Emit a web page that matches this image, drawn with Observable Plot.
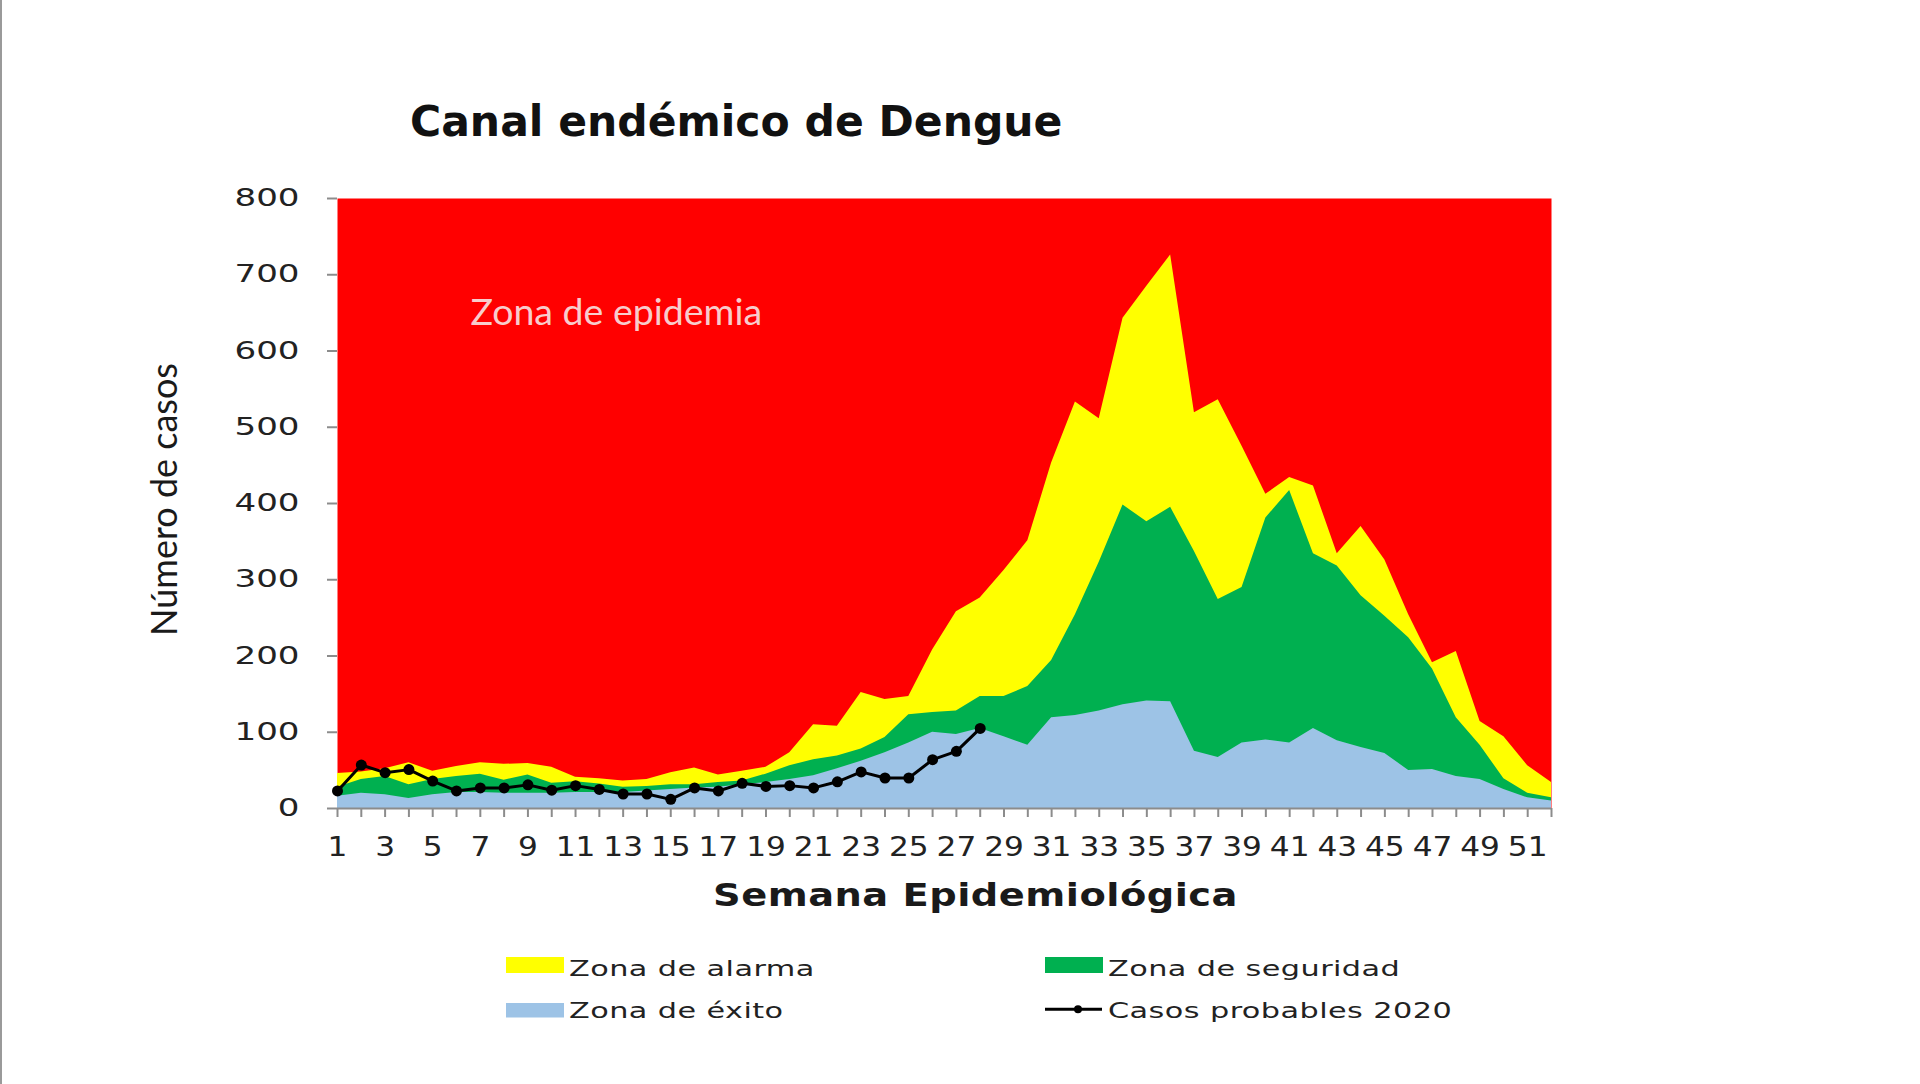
<!DOCTYPE html>
<html>
<head>
<meta charset="utf-8">
<script src="https://cdn.jsdelivr.net/npm/d3@7"></script>
<script src="https://cdn.jsdelivr.net/npm/@observablehq/plot@0.6"></script>
<style>
  html, body { margin: 0; padding: 0; background: #ffffff; }
  body { width: 1920px; height: 1084px; overflow: hidden; position: relative; }
  #edge { position: absolute; left: 0; top: 0; width: 2px; height: 1084px; background: #9a9a9a; }
  #title { position: relative; height: 160px; }
  #title span { position: absolute; left: 410px; top: 101px; font-family: "DejaVu Sans", sans-serif; font-weight: bold; font-size: 42.5px; line-height: 42px; color: #111; white-space: nowrap; }
  #chart { height: 760px; }
  #chart svg { display: block; }
  #legend { height: 164px; }
  #legend svg { display: block; }
</style>
</head>
<body>
<div id="edge"></div>
<div id="title"><span>Canal endémico de Dengue</span></div>
<div id="chart"></div>
<div id="legend"></div>
<script>
// ---- data ----
const weeks = d3.range(1, 53);
const alarma = [46, 48, 52, 60, 49, 55, 60, 58, 59, 54, 41, 39, 36, 38, 47, 53, 44, 49, 54, 73,
  110, 108, 152, 143, 147, 208, 258, 276, 312, 351, 453, 533, 511, 643, 685, 726, 519, 536, 475, 412,
  434, 423, 334, 370, 326, 254, 191, 206, 114, 94, 56, 34];
const seguridad = [28, 38, 42, 31, 38, 42, 45, 37, 44, 33, 35, 32, 28, 29, 31, 31, 34, 36, 45, 56,
  64, 69, 78, 93, 123, 126, 128, 147, 147, 160, 194, 254, 323, 398, 376, 395, 337, 274, 290, 381,
  417, 334, 318, 279, 252, 224, 183, 119, 83, 39, 20, 14];
const exito = [16, 20, 18, 13, 18, 21, 21, 20, 20, 20, 21, 21, 21, 23, 25, 27, 28, 31, 34, 38,
  43, 52, 62, 73, 86, 100, 97, 105, 94, 83, 119, 122, 128, 136, 141, 140, 75, 67, 86, 90,
  86, 105, 89, 80, 72, 50, 51, 42, 38, 25, 14, 10];
const casos = [23, 57, 47, 51, 36, 23, 27, 27, 31, 24, 30, 25, 19, 19, 12, 27, 23, 33, 29, 30,
  27, 35, 48, 40, 40, 64, 75, 105];
const yTicks = [0, 100, 200, 300, 400, 500, 600, 700, 800];
const xTickLabels = d3.range(1, 53, 2);

const colors = { epidemia: "#FF0000", alarma: "#FFFF00", seguridad: "#00B050", exito: "#9DC3E6", casos: "#000000" };
const legendItems = [
  { label: "Zona de alarma", kind: "swatch", color: colors.alarma, col: 0, row: 0 },
  { label: "Zona de seguridad", kind: "swatch", color: colors.seguridad, col: 1, row: 0 },
  { label: "Zona de éxito", kind: "swatch", color: colors.exito, col: 0, row: 1 },
  { label: "Casos probables 2020", kind: "line", color: colors.casos, col: 1, row: 1 }
];

const table = weeks.map((w, i) => ({ week: w, alarma: alarma[i], seguridad: seguridad[i], exito: exito[i] }));
const casosData = casos.map((c, i) => ({ week: i + 1, casos: c }));

const chart = Plot.plot({
  width: 1920,
  height: 760,
  marginLeft: 337,
  marginRight: 369,
  marginTop: 38,
  marginBottom: 112,
  x: { domain: [1, 52], axis: null },
  y: { domain: [0, 800], axis: null },
  style: { fontFamily: "DejaVu Sans, sans-serif", background: "transparent", overflow: "visible" },
  marks: [
    Plot.frame({ fill: colors.epidemia, stroke: null }),
    Plot.areaY(table, { x: "week", y: "alarma", fill: colors.alarma }),
    Plot.areaY(table, { x: "week", y: "seguridad", fill: colors.seguridad }),
    Plot.areaY(table, { x: "week", y: "exito", fill: colors.exito }),
    Plot.ruleY([0], { stroke: "#8c8c8c", strokeWidth: 2 }),
    Plot.axisY({ ticks: yTicks, tickSize: 10, tickPadding: 28, fontSize: 24, label: null, color: "#222", tickFormat: d => String(d) }),
    Plot.axisX({ ticks: weeks, tickSize: 9, tickPadding: 20, fontSize: 26, label: null, color: "#222",
      tickFormat: d => xTickLabels.includes(d) ? String(d) : "" }),
    Plot.lineY(casosData, { x: "week", y: "casos", stroke: colors.casos, strokeWidth: 3 }),
    Plot.dot(casosData, { x: "week", y: "casos", r: 5.5, fill: colors.casos, stroke: null }),
    Plot.text(["Zona de epidemia"], { frameAnchor: "top-left", textAnchor: "start", lineAnchor: "middle",
      dx: 133, dy: 114, fontSize: 37.5, fontFamily: "Lato, sans-serif", fill: "#f8cccc" }),
    Plot.text(["Semana Epidemiológica"], { frameAnchor: "bottom", textAnchor: "middle", lineAnchor: "middle",
      dx: 31, dy: 87, fontSize: 32, fontWeight: "bold", fill: "#1a1a1a", className: "xlabel" }),
    Plot.text(["Número de casos"], { frameAnchor: "left", textAnchor: "middle", lineAnchor: "middle", rotate: -90,
      dx: -172, dy: -4, fontSize: 36, fontFamily: "Lato, sans-serif", fill: "#1a1a1a" })
  ]
});

// horizontally widen glyphs (the reference text is drawn wide)
function stretch(nodes, sx, spacing) {
  nodes.each(function () {
    if (this.hasAttribute("x")) this.setAttribute("x", (+this.getAttribute("x")) / sx);
    const t = this.getAttribute("transform") || "";
    this.setAttribute("transform", (t + ` scale(${sx},1)`).trim());
    if (spacing) this.setAttribute("letter-spacing", spacing);
  });
}

const sel = d3.select(chart);
stretch(sel.selectAll('[aria-label="x-axis tick label"] text'), 1.2);
stretch(sel.selectAll('[aria-label="y-axis tick label"] text'), 1.42);
stretch(sel.selectAll('.xlabel text, text.xlabel'), 1.2, "0.4px");
sel.selectAll('[aria-label="x-axis tick"], [aria-label="y-axis tick"]').attr("stroke", "#8c8c8c").attr("stroke-width", 2);
sel.selectAll('[aria-label="x-axis tick"] path, [aria-label="y-axis tick"] path').attr("stroke", "#8c8c8c");
document.getElementById("chart").appendChild(chart);

// ---- legend (below the chart) ----
const colX = [506, 1045];
const swatchY = [37, 83];
const swatchH = [16, 14.5];
const baseY = [55.5, 97.5];
const lg = d3.select("#legend").append("svg").attr("width", 1920).attr("height", 164);
for (const it of legendItems) {
  const x0 = colX[it.col];
  const sy = swatchY[it.row], sh = swatchH[it.row];
  if (it.kind === "swatch") {
    lg.append("rect").attr("x", x0).attr("y", sy).attr("width", 58).attr("height", sh).attr("fill", it.color);
  } else {
    const ly = sy + sh / 2 - 1;
    lg.append("line").attr("x1", x0).attr("x2", x0 + 57).attr("y1", ly).attr("y2", ly)
      .attr("stroke", it.color).attr("stroke-width", 3);
    lg.append("circle").attr("cx", x0 + 33).attr("cy", ly).attr("r", 4).attr("fill", it.color);
  }
  lg.append("text").attr("transform", `translate(${x0 + 63},${baseY[it.row]}) scale(1.41,1)`)
    .attr("font-family", "DejaVu Sans, sans-serif").attr("font-size", 21.5)
    .attr("letter-spacing", "0.3px").attr("fill", "#222").text(it.label);
}
</script>
</body>
</html>
